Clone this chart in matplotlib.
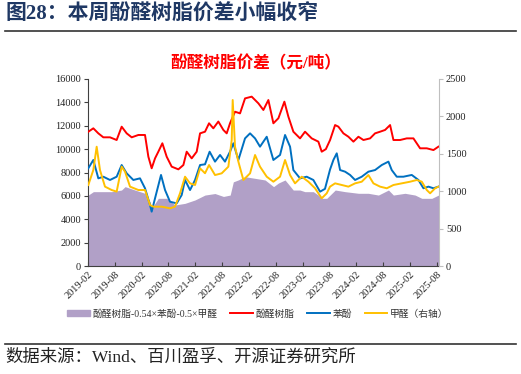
import numpy as np
import matplotlib
matplotlib.use("Agg")
from matplotlib import pyplot as plt
from matplotlib.patches import Patch
from matplotlib.lines import Line2D

plt.rcParams['font.family'] = ['Liberation Serif', 'Noto Sans CJK SC']
plt.rcParams['axes.unicode_minus'] = False

# x positions are months since 2019-02
tick_labels = ["2019-02", "2019-08", "2020-02", "2020-08", "2021-02", "2021-08", "2022-02",
               "2022-08", "2023-02", "2023-08", "2024-02", "2024-08", "2025-02", "2025-08"]

# spread: resin - 0.54*phenol - 0.5*formaldehyde (left axis)
spread_t = [0.07, 1.2, 3.0, 5.3, 7.5, 8.3, 10.5, 12.75, 13.87, 14.2, 15.73, 17.6, 19.46, 21.7,
            23.94, 26.17, 28.4, 30.3, 31.8, 32.5, 33.6, 35.12, 37.36, 39.6, 41.5, 42.6, 44.07,
            45.9, 47.4, 48.5, 50.4, 51.5, 52.3, 53.4, 55.3, 57.5, 60.5, 62.7, 64.95, 67.2,
            68.3, 70.9, 73.15, 74.65, 76.9, 78.4]
spread_v = [6070, 6360, 6360, 6360, 6500, 6790, 6500, 6220, 5500, 4900, 5790, 5790, 5220, 5360,
            5650, 6070, 6200, 5950, 6070, 7200, 7360, 7640, 7500, 7360, 6790, 7100, 7360,
            6500, 6500, 6360, 6360, 6070, 5790, 5790, 6500, 6360, 6220, 6220, 6070, 6500,
            6070, 6220, 6070, 5790, 5790, 6070]

# phenolic resin (left axis)
resin_t = [0.07, 1.19, 2.31, 3.43, 4.92, 6.41, 7.53, 8.65, 9.77, 11.26, 12.75, 13.5, 14.24,
           14.99, 15.73, 16.63, 17.6, 18.72, 20.21, 21.33, 22.07, 23.19, 24.31, 25.06, 26.17,
           27.07, 28.03, 29.15, 30.27, 31.02, 31.76, 32.88, 34.0, 35.12, 36.61, 38.1, 39.22,
           40.34, 41.46, 42.58, 43.92, 44.81, 45.93, 47.42, 48.54, 50.03, 51.52, 52.27, 53.2,
           54.14, 55.26, 56.0, 57.12, 58.24, 59.36, 60.48, 61.6, 63.09, 64.2, 65.32, 66.44,
           67.56, 68.31, 69.8, 71.29, 72.78, 74.27, 75.76, 77.26, 78.37]
resin_v = [11490, 11780, 11350, 11010, 11010, 10780, 11920, 11350, 11010, 11210, 11210, 9350, 8360,
           9210, 9780, 10500, 9350, 8500, 8270, 8640, 9780, 9210, 9780, 11350, 11490,
           12210, 11780, 12360, 11640, 11350, 12210, 13200, 13060, 14340, 14490, 13920, 13350,
           14200, 12210, 12640, 14060, 12780, 11490, 10920, 11490, 10920, 10640, 9780, 10000,
           10780, 12060, 11920, 11350, 11060, 10640, 11060, 10780, 10920, 11350, 11490, 11640,
           12060, 10780, 10780, 10920, 10920, 10070, 10070, 9920, 10210]

# phenol (left axis)
phenol_t = [0.07, 1.19, 2.31, 3.43, 4.92, 6.41, 7.53, 8.65, 10.14, 11.63, 12.75, 13.87, 14.24,
            14.99, 16.33, 17.23, 18.34, 19.83, 20.95, 21.7, 22.82, 23.94, 25.06, 26.17, 27.2,
            28.41, 29.53, 30.64, 31.76, 32.51, 33.63, 35.12, 36.24, 37.36, 38.47, 39.97, 41.46,
            42.95, 44.07, 45.19, 45.93, 47.42, 48.91, 50.4, 51.9, 53.0, 54.13, 54.88, 55.63,
            56.38, 57.5, 58.61, 59.73, 61.22, 62.71, 64.2, 65.7, 67.19, 67.93, 69.05, 70.54,
            72.41, 73.9, 75.02, 76.14, 77.26, 78.37]
phenol_v = [8360, 9070, 7500, 7640, 7360, 7640, 8640, 7930, 7360, 7500, 6650, 5220, 4650,
            5790, 7790, 6500, 5500, 5360, 6070, 7360, 6500, 7360, 8640, 8700, 9780,
            8930, 9500, 8930, 9780, 10500, 9070, 10920, 11350, 10920, 10210, 11060, 9070,
            9500, 11210, 10210, 8210, 7500, 7640, 7360, 6360, 6600, 8250, 9070, 9640,
            8210, 8070, 7790, 7360, 7640, 8070, 8210, 8640, 8930, 8210, 7640, 7640,
            7790, 7360, 6650, 6790, 6650, 6790]

# formaldehyde (right axis)
formal_t = [0.07, 1.19, 1.94, 2.68, 3.8, 5.29, 6.41, 7.53, 8.28, 9.4, 11.26, 12.75, 13.87, 14.62,
            16.48, 18.34, 19.46, 20.58, 21.7, 22.82, 23.94, 25.06, 26.17, 27.07, 28.41, 29.9,
            31.39, 32.14, 32.36, 32.88, 33.63, 34.75, 36.24, 37.36, 38.47, 39.97, 41.46, 42.95,
            44.07, 45.19, 46.3, 47.8, 49.29, 50.78, 52.27, 53.39, 54.13, 55.26, 56.75, 58.24,
            59.73, 61.22, 62.71, 63.83, 65.32, 66.82, 68.31, 70.17, 72.04, 73.53, 74.65, 75.76,
            76.51, 77.63, 78.37]
formal_v = [1083, 1283, 1595, 1283, 1061, 1016, 994, 1328, 1261, 1061, 1016, 1016, 815, 793,
            793, 771, 793, 972, 1194, 1105, 1083, 1306, 1240, 1350, 1216, 1239,
            1328, 1685, 2219, 1595, 1395, 1150, 1239, 1484, 1328, 1194, 1127, 1194,
            1417, 1216, 1105, 1194, 1127, 1039, 905, 972, 1061, 1105, 1083, 1061,
            1105, 1127, 1216, 1105, 1061, 1039, 1083, 1105, 1127, 1150, 1127, 1016,
            972, 1039, 1061]

c_spread = "#B1A0C7"
c_resin = "#FF0000"
c_phenol = "#0070C0"
c_formal = "#FFC000"

fig = plt.figure(figsize=(5.21, 3.74), dpi=100)
ax = fig.add_axes([88/521, 1-266/374, (439-88)/521, (266-79)/374])
ax2 = ax.twinx()

ax.fill_between(spread_t, spread_v, 0, color=c_spread, lw=0, zorder=1)
ax.plot(resin_t, resin_v, color=c_resin, lw=1.4, zorder=3)
ax.plot(phenol_t, phenol_v, color=c_phenol, lw=1.4, zorder=3)
ax2.plot(formal_t, formal_v, color=c_formal, lw=1.4)

ax.set_xlim(0, 78.5)
ax.set_ylim(0, 16000)
ax.set_yticks(np.arange(0, 16001, 2000))
ax2.set_ylim(0, 2500)
ax2.set_yticks(np.arange(0, 2501, 500))
ax.set_xticks(np.arange(0, 79, 6))
ax.set_xticklabels(tick_labels, rotation=45, ha='right', va='top', rotation_mode='anchor')

for a in (ax, ax2):
    a.spines['top'].set_visible(False)
ax.spines['left'].set_color('#404040')
ax.spines['bottom'].set_color('#404040')
ax.spines['right'].set_visible(False)
ax2.spines['left'].set_visible(False)
ax2.spines['bottom'].set_visible(False)
ax2.spines['right'].set_color('#BFBFBF')

ax.tick_params(axis='y', direction='out', length=3, labelsize=7.5, color='#404040', labelcolor='#222222', pad=2)
ax.tick_params(axis='x', direction='in', length=3, labelsize=7.5, color='#404040', labelcolor='#222222', pad=3)
ax2.tick_params(axis='y', direction='out', length=3, labelsize=7.5, color='#BFBFBF', labelcolor='#222222', pad=2)

# header
fig.text(0.01, 1-15/374, "图28：本周酚醛树脂价差小幅收窄", fontsize=15, fontweight='bold',
         color='#1F3864', ha='left', va='center')
fig.add_artist(Line2D([0.01, 0.99], [1-31/374, 1-31/374], color='#333333', lw=1.2))
fig.text(0.49, 1-64/374, "酚醛树脂价差（元/吨）", fontsize=12, fontweight='bold',
         color='#FF0000', ha='center', va='center')

handles = [Patch(color=c_spread, label="酚醛树脂-0.54×苯酚-0.5×甲醛"),
           Line2D([], [], color=c_resin, lw=1.4, label="酚醛树脂"),
           Line2D([], [], color=c_phenol, lw=1.4, label="苯酚"),
           Line2D([], [], color=c_formal, lw=1.4, label="甲醛（右轴）")]
leg = fig.legend(handles=handles, loc='center', bbox_to_anchor=(258/521, 1-314/374), ncol=4,
                 frameon=False, fontsize=7, handlelength=2.3, handleheight=0.6,
                 handletextpad=0.3, columnspacing=1.3)
for t in leg.get_texts():
    t.set_color('#333333')

fig.add_artist(Line2D([0.01, 0.99], [1-344/374, 1-344/374], color='#333333', lw=1.2))
fig.text(0.01, 1-358/374, "数据来源：Wind、百川盈孚、开源证券研究所", fontsize=12.5,
         color='#222222', ha='left', va='center')

fig.savefig("out.png", dpi=100)
